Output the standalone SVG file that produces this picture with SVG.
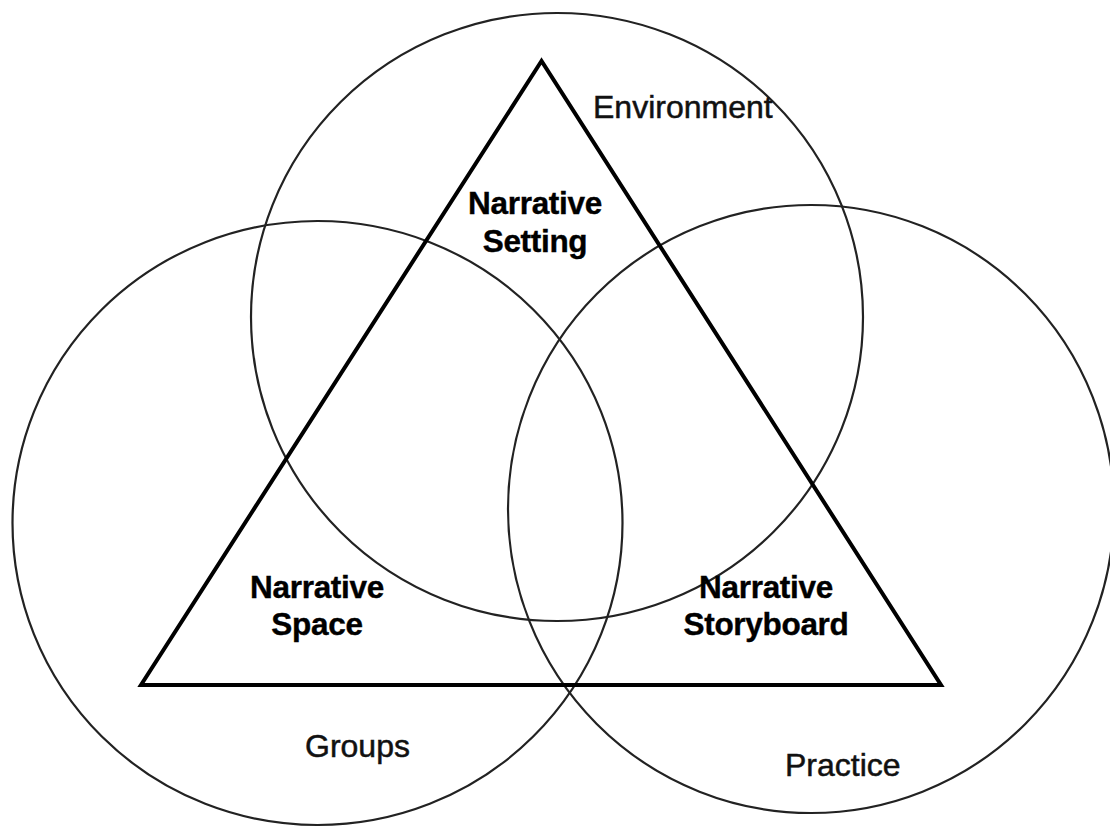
<svg xmlns="http://www.w3.org/2000/svg" width="1110" height="827" viewBox="0 0 1110 827">
  <style>
    .ring { fill: none; stroke: #222; stroke-width: 2.2; }
    .tri { fill: none; stroke: #000; stroke-width: 4; stroke-linejoin: miter; }
    .lbl { font-family: "Liberation Sans", Arial, sans-serif; font-size: 32px; fill: #111; stroke: #111; stroke-width: 0.5; }
    .core { font-family: "Liberation Sans", Arial, sans-serif; font-size: 31.5px; font-weight: bold; fill: #000; stroke: #000; stroke-width: 0.4; text-anchor: middle; letter-spacing: -0.3px; }
  </style>
  <rect width="1110" height="827" fill="#fff"/>

  <!-- three overlapping circles -->
  <g id="circle-environment">
    <ellipse class="ring" cx="557" cy="317" rx="306" ry="304"/>
    <text class="lbl" x="593" y="118">Environment</text>
  </g>
  <g id="circle-groups">
    <ellipse class="ring" cx="317.5" cy="523" rx="305" ry="302"/>
    <text class="lbl" x="305" y="757">Groups</text>
  </g>
  <g id="circle-practice">
    <ellipse class="ring" cx="811" cy="509" rx="303" ry="304"/>
    <text class="lbl" x="785" y="776">Practice</text>
  </g>

  <!-- central triangle -->
  <g id="triangle">
    <polygon class="tri" points="541.5,61 141,685 941,685"/>
  </g>

  <g id="narrative-setting">
    <text class="core" x="535" y="214">Narrative</text>
    <text class="core" x="535" y="252">Setting</text>
  </g>
  <g id="narrative-space">
    <text class="core" x="317" y="598">Narrative</text>
    <text class="core" x="317" y="635">Space</text>
  </g>
  <g id="narrative-storyboard">
    <text class="core" x="766" y="598">Narrative</text>
    <text class="core" x="766" y="635">Storyboard</text>
  </g>

  <g id="connectors"></g>
</svg>
